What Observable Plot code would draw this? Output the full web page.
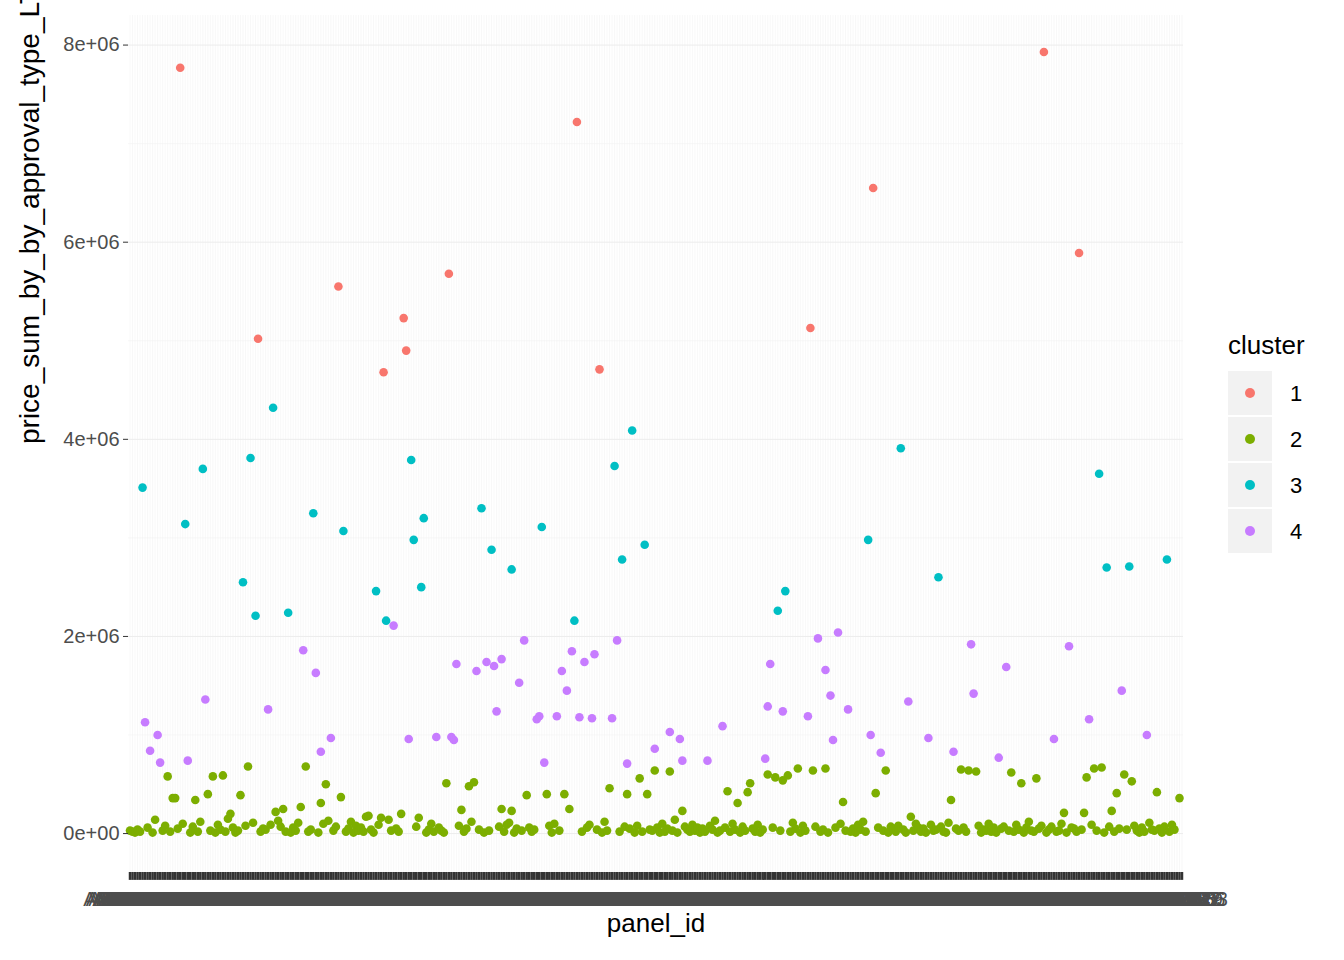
<!DOCTYPE html>
<html><head><meta charset="utf-8">
<script src="https://cdn.jsdelivr.net/npm/d3@7"></script>
<script src="https://cdn.jsdelivr.net/npm/@observablehq/plot@0.6"></script>
<style>
body{margin:0;background:#fff;font-family:Arial,"Liberation Sans",sans-serif}
#wrap{position:relative;width:1344px;height:960px}
#legend{position:absolute;left:1228px;top:330px;color:#000}
#legend .t{font-size:26px;margin-bottom:10px}
#legend .r{display:flex;align-items:center;height:46px}
#legend .b{width:44px;height:44px;background:#f2f2f2;display:flex;align-items:center;justify-content:center;margin-right:18px;margin-bottom:2px}
#legend .d{width:10px;height:10px;border-radius:50%}
#legend .l{font-size:22px}
</style></head><body>
<div id="wrap"><div id="chart"></div><div id="legend"></div></div>
<script>
var nPanels = 420
var panelIds = d3.range(nPanels).map(i => "AB" + String(100000 + i * 37))

var c1Idx = [20,51,83,101,109,110,127,178,187,271,296,364,378]
var c1Val = [7.77,5.02,5.55,4.68,5.23,4.90,5.68,7.22,4.71,5.13,6.55,7.93,5.89]

var c3Idx = [5,22,29,45,48,50,57,63,73,85,98,102,112,113,116,117,140,144,152,164,177,193,196,200,205,258,261,294,307,322,386,389,398,413]
var c3Val = [3.51,3.14,3.70,2.55,3.81,2.21,4.32,2.24,3.25,3.07,2.46,2.16,3.79,2.98,2.50,3.20,3.30,2.88,2.68,3.11,2.16,3.73,2.78,4.09,2.93,2.26,2.46,2.98,3.91,2.60,3.65,2.70,2.71,2.78]

var c4Idx = [6,8,11,12,23,30,55,69,74,76,80,105,111,122,128,129,130,138,142,145,146,148,155,157,162,163,165,170,172,174,176,179,181,184,185,192,194,198,209,215,219,220,230,236,253,254,255,260,270,274,277,279,280,282,286,295,299,310,318,328,335,336,346,349,368,374,382,395,405]
var c4Val = [1.13,0.84,1.00,0.72,0.74,1.36,1.26,1.86,1.63,0.83,0.97,2.11,0.96,0.98,0.98,0.95,1.72,1.65,1.74,1.70,1.24,1.77,1.53,1.96,1.16,1.19,0.72,1.19,1.65,1.45,1.85,1.18,1.74,1.17,1.82,1.17,1.96,0.71,0.86,1.03,0.96,0.74,0.74,1.09,0.76,1.29,1.72,1.24,1.19,1.98,1.66,1.40,0.95,2.04,1.26,1.00,0.82,1.34,0.97,0.83,1.92,1.42,0.77,1.69,0.96,1.90,1.16,1.45,1.00]

var c2Idx = [15,17,18,10,26,31,33,37,40,44,47,49,61,68,70,76,78,79,84,95,100,108,126,132,135,137,148,152,158,166,173,175,191,198,203,206,209,215,220,238,242,246,247,254,257,260,262,266,272,277,284,297,301,311,327,331,334,337,351,355,361,372,380,381,384,387,391,393,396,399,409,418,
  0,1,2,3,4,7,9,13,14,16,19,21,24,25,27,28,32,34,35,36,38,39,41,42,43,46,52,53,54,56,58,59,60,62,64,65,66,67,71,72,75,77,81,82,86,87,88,89,90,91,92,93,94,96,97,99,103,104,106,107,114,115,118,119,120,121,123,124,125,131,133,134,136,139,141,143,147,149,150,151,153,154,156,159,160,161,167,168,169,171,180,182,183,186,188,189,190,195,197,199,201,202,204,207,208,210,211,212,213,214,216,217,218,221,222,223,224,225,226,227,228,229,231,232,233,234,235,237,239,240,241,243,244,245,248,249,250,251,252,256,259,263,264,265,267,268,269,273,275,276,278,281,283,285,287,288,289,290,291,292,293,298,300,302,303,304,305,306,308,309,312,313,314,315,316,317,319,320,321,323,324,325,326,329,330,332,333,338,339,340,341,342,343,344,345,347,348,350,352,353,354,356,357,358,359,360,362,363,365,366,367,369,370,371,373,375,376,377,379,383,385,388,390,392,394,397,400,401,402,403,404,406,407,408,410,411,412,414,415,416,417,419]
var c2Val = [0.58,0.36,0.36,0.14,0.34,0.40,0.58,0.59,0.20,0.39,0.68,0.11,0.25,0.27,0.68,0.31,0.50,0.13,0.37,0.18,0.16,0.20,0.51,0.24,0.48,0.52,0.25,0.23,0.39,0.40,0.40,0.25,0.46,0.40,0.56,0.40,0.64,0.63,0.23,0.43,0.31,0.42,0.51,0.60,0.57,0.54,0.59,0.66,0.64,0.66,0.32,0.41,0.64,0.17,0.34,0.65,0.64,0.63,0.62,0.51,0.56,0.21,0.21,0.57,0.66,0.67,0.23,0.41,0.60,0.53,0.42,0.36,
  0.03,0.02,0.01,0.04,0.02,0.06,0.01,0.03,0.08,0.02,0.05,0.10,0.01,0.07,0.02,0.12,0.03,0.01,0.09,0.04,0.02,0.15,0.06,0.01,0.03,0.08,0.02,0.05,0.04,0.09,0.22,0.13,0.07,0.02,0.01,0.06,0.03,0.11,0.02,0.04,0.01,0.10,0.03,0.07,0.02,0.05,0.12,0.01,0.08,0.03,0.06,0.02,0.17,0.04,0.01,0.09,0.14,0.03,0.05,0.02,0.07,0.16,0.01,0.04,0.10,0.02,0.06,0.03,0.01,0.08,0.02,0.05,0.12,0.04,0.01,0.03,0.07,0.02,0.09,0.11,0.01,0.05,0.03,0.06,0.02,0.04,0.08,0.01,0.10,0.03,0.02,0.06,0.09,0.04,0.01,0.12,0.03,0.02,0.07,0.05,0.01,0.08,0.02,0.04,0.03,0.06,0.01,0.10,0.02,0.05,0.03,0.14,0.01,0.07,0.04,0.02,0.09,0.03,0.06,0.01,0.05,0.02,0.08,0.04,0.13,0.01,0.03,0.06,0.02,0.10,0.04,0.01,0.07,0.03,0.05,0.02,0.09,0.01,0.04,0.06,0.03,0.02,0.11,0.05,0.01,0.08,0.03,0.07,0.02,0.04,0.01,0.06,0.10,0.03,0.02,0.05,0.01,0.09,0.04,0.12,0.02,0.06,0.03,0.01,0.07,0.05,0.02,0.08,0.04,0.01,0.03,0.10,0.06,0.02,0.05,0.01,0.09,0.03,0.04,0.07,0.02,0.01,0.11,0.05,0.03,0.06,0.02,0.08,0.01,0.04,0.03,0.10,0.02,0.06,0.01,0.05,0.07,0.03,0.02,0.09,0.04,0.01,0.06,0.12,0.03,0.02,0.05,0.08,0.01,0.04,0.07,0.02,0.03,0.10,0.01,0.06,0.05,0.02,0.04,0.09,0.03,0.01,0.07,0.02,0.05,0.04,0.08,0.03,0.01,0.06,0.02,0.11,0.04,0.03,0.05,0.01,0.07,0.02,0.09,0.04]

var clusters = ["1","2","3","4"]
var colors = ["#F8766D","#7CAE00","#00BFC4","#C77CFF"]

var pts = []
;[[c1Idx,c1Val,"1"],[c2Idx,c2Val,"2"],[c3Idx,c3Val,"3"],[c4Idx,c4Val,"4"]].forEach(([ix,vs,c]) => {
  ix.forEach((x,i) => { if (vs[i] !== undefined) pts.push({x: x, y: vs[i] * 1e6, cluster: c}) })
})

var ymin = -0.395e6, ymax = 8.3e6
var chart = Plot.plot({
  width: 1344, height: 960,
  marginLeft: 128, marginRight: 161, marginTop: 15, marginBottom: 88,
  style: {fontFamily: "Arial, Liberation Sans, sans-serif", overflow: "visible"},
  x: {domain: [-0.6, nPanels - 0.4], axis: null},
  y: {domain: [ymin, ymax], axis: null},
  color: {domain: clusters, range: colors},
  marks: [
    Plot.ruleX(d3.range(nPanels), {x: d => d, y1: ymin, y2: ymax, stroke: "#f0f0f0", strokeWidth: 0.5}),
    Plot.ruleY([1e6,3e6,5e6,7e6], {stroke: "#f4f4f4", strokeWidth: 0.6}),
    Plot.ruleY([0,2e6,4e6,6e6,8e6], {stroke: "#ececec", strokeWidth: 1}),
    Plot.dot(pts, {x: "x", y: "y", fill: "cluster", r: 4.3}),
    Plot.ruleX(d3.range(nPanels), {x: d => d, y1: ymin, y2: ymin - 0.08e6, stroke: "#333", strokeWidth: 2.5, clip: false}),
    Plot.text(panelIds, {x: (d, i) => i, y: ymin - 0.27e6, text: d => d, fill: "#4d4d4d", fontSize: 20}),
    Plot.axisY({ticks: [0,2e6,4e6,6e6,8e6], tickFormat: d => d === 0 ? "0e+00" : (d/1e6) + "e+06", fontSize: 20, tickSize: 5, tickPadding: 4, label: null, color: "#4d4d4d", stroke: "#333"}),
    Plot.text(["price_sum_by_by_approval_type_LT01"], {frameAnchor: "left", dx: -98, dy: 0, rotate: -90, fontSize: 28, fill: "#000"}),
    Plot.text(["panel_id"], {frameAnchor: "bottom", dy: 59, fontSize: 26, fill: "#000"})
  ]
})
d3.select("#chart").append(() => chart)

var lg = d3.select("#legend")
lg.append("div").attr("class", "t").text("cluster")
clusters.forEach((c, i) => {
  var r = lg.append("div").attr("class", "r")
  r.append("div").attr("class", "b").append("div").attr("class", "d").style("background", colors[i])
  r.append("div").attr("class", "l").text(c)
})
</script>
</body></html>
